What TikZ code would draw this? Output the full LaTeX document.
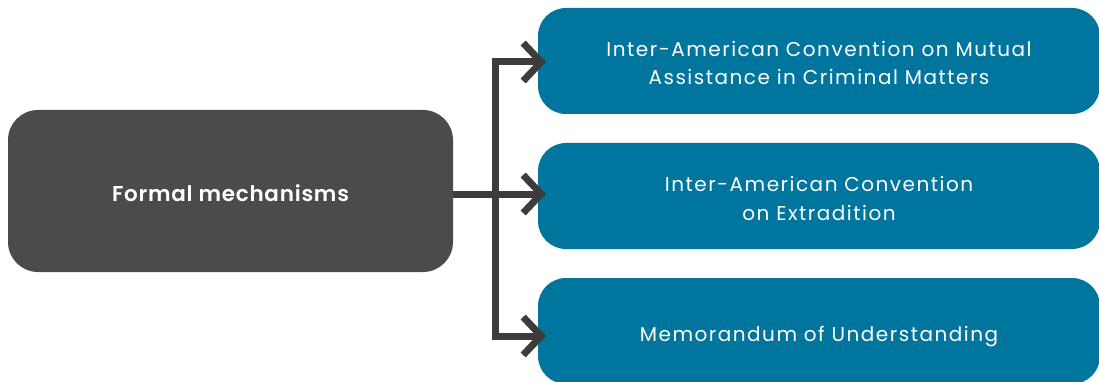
\documentclass[tikz,border=0pt]{standalone}
\usepackage{fontspec}
\setmainfont{Poppins}
\newfontfamily\itemfont[LetterSpace=7.5]{Poppins}
\newfontfamily\headfont[LetterSpace=3.5]{Poppins SemiBold}
\usetikzlibrary{arrows.meta}
\definecolor{darkbox}{HTML}{4B4B49}
\definecolor{bluebox}{HTML}{00769F}
\definecolor{arrowc}{HTML}{3C3C3A}
\begin{document}
\begin{tikzpicture}[x=1pt,y=-1pt,
  mainbox/.style={fill=darkbox, rounded corners=30pt, minimum width=445pt, minimum height=162pt, text=white, inner sep=0pt, font=\headfont\fontsize{21.5}{26}\selectfont},
  itembox/.style={fill=bluebox, rounded corners=28pt, minimum width=562pt, minimum height=106pt, text=white, inner sep=0pt, align=center, font=\itemfont\fontsize{20}{28.5}\selectfont},
  conn/.style={draw=arrowc, line width=7pt, line join=miter},
  tipped/.style={conn, -{Straight Barb[length=18pt,width=38pt]}}]
\useasboundingbox (0,0) rectangle (1099,382);
\begin{scope}
\clip (0,0) rectangle (1099,382);
\node[mainbox, text height=21.4pt, text depth=0pt] (fm) at (230.5,191) {Formal mechanisms};
\node[itembox, text height=48pt, text depth=0pt] (a) at (819,61) {Inter-American Convention on Mutual\\Assistance in Criminal Matters};
\node[itembox, text height=48.4pt, text depth=0pt] (b) at (819,196) {Inter-American Convention\\on Extradition};
\node[itembox, text height=21.4pt, text depth=0pt] (c) at (819,331) {Memorandum of Understanding};
\end{scope}
\coordinate (j) at (495,194);
\coordinate (ta) at (546,62);
\coordinate (tb) at (546,194);
\coordinate (tc) at (546,336);
\draw[conn] (fm.east |- j) -- (j);
\draw[tipped] (j) |- (ta);
\draw[tipped] (j) -- (tb);
\draw[tipped] (j) |- (tc);
\end{tikzpicture}
\end{document}
